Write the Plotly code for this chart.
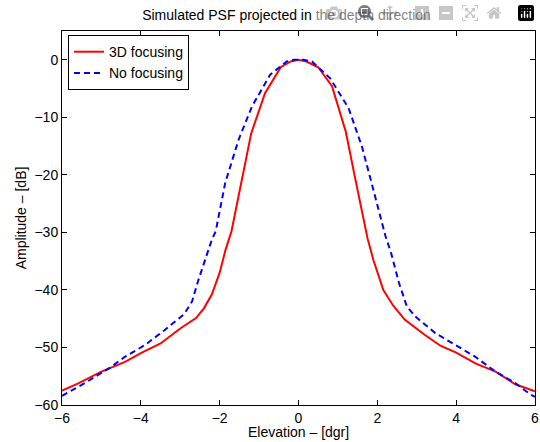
import plotly.graph_objects as go

# 3D focusing (red solid)
x_focus = [-6, -5.6, -5.0, -4.4, -4.0, -3.5, -3.0, -2.6, -2.4, -2.2, -2.0, -1.85, -1.7,
           -1.45, -1.2, -0.85, -0.45, -0.2, 0, 0.2, 0.5, 0.85, 1.2, 1.45, 1.6, 1.75, 1.9,
           2.15, 2.4, 2.7, 3.2, 3.6, 4.0, 4.5, 5.0, 5.5, 6.0]
y_focus = [-57.5, -56.3, -54.2, -52.5, -51.0, -49.3, -46.7, -44.9, -43.2, -40.8, -37.0,
           -33.0, -29.8, -21.2, -12.8, -5.8, -1.3, -0.3, 0, -0.3, -1.3, -4.6, -12.5, -21.0,
           -26.3, -31.0, -34.8, -40.0, -42.7, -45.2, -47.8, -49.7, -50.9, -52.8, -54.2,
           -56.4, -57.6]

# No focusing (blue dashed)
x_nofocus = [-6, -5.5, -4.8, -4.4, -3.9, -3.4, -2.9, -2.7, -2.55, -2.37, -2.2, -2.1, -1.86,
             -1.52, -1.18, -0.72, -0.3, -0.12, 0.12, 0.34, 0.8, 1.27, 1.61, 1.9, 2.2, 2.35,
             2.55, 2.75, 2.96, 3.47, 3.97, 4.48, 5.0, 5.5, 5.87, 6.0]
y_nofocus = [-58.4, -56.5, -53.6, -51.6, -49.6, -47.0, -44.2, -42.0, -38.5, -34.8, -31.3,
             -29.8, -21.4, -13.9, -8.1, -2.6, -0.3, 0, 0, -0.3, -3.2, -8.4, -15.1, -22.6,
             -30.5, -33.6, -38.8, -42.9, -44.6, -47.5, -49.6, -51.6, -54.2, -56.2, -58.1,
             -58.6]

x_ticks = [-6, -4, -2, 0, 2, 4, 6]
y_ticks = [-60, -50, -40, -30, -20, -10, 0]

FONT = "Liberation Sans, Arial, Helvetica, sans-serif"

fig = go.Figure()
fig.add_trace(go.Scatter(x=x_focus, y=y_focus, mode="lines", name="3D focusing",
                         line=dict(color="#ff0000", width=2)))
fig.add_trace(go.Scatter(x=x_nofocus, y=y_nofocus, mode="lines", name="No focusing",
                         line=dict(color="#0000ff", width=2, dash="6px,4px")))

axis_common = dict(showgrid=False, zeroline=False, showline=True, linecolor="black",
                   linewidth=1, mirror="ticks", ticks="inside", ticklen=5,
                   tickcolor="black", tickfont=dict(size=14, color="black"),
                   ticklabeloverflow="allow", automargin=False)

fig.update_layout(
    width=540, height=442,
    margin=dict(l=62, r=5, t=31, b=37),
    paper_bgcolor="white", plot_bgcolor="white",
    font=dict(family=FONT, size=14, color="black"),
    title=dict(text="Simulated PSF projected in the depth direction",
               x=286.5 / 540, xanchor="center", y=1 - 15 / 442, yanchor="middle",
               font=dict(size=14)),
    xaxis=dict(range=[-6, 6], tickvals=x_ticks, **axis_common),
    yaxis=dict(range=[-60, 5], tickvals=y_ticks,
               title=dict(text="Amplitude – [dB]", standoff=4, font=dict(size=14)),
               **axis_common),
    legend=dict(x=0.0127, y=0.989, xanchor="left", yanchor="top",
                bgcolor="white", bordercolor="black", borderwidth=1,
                font=dict(size=14), itemwidth=30, tracegroupgap=0),
    showlegend=True,
    annotations=[dict(text="Elevation – [dgr]", xref="paper", yref="paper",
                      x=0.5, y=-27 / 374, xanchor="center", yanchor="middle",
                      showarrow=False, font=dict(size=14))],
)

# remove the browser's default page margin so the 540x442 figure fills the window
fig.write_html("out.html",
               post_script="document.body.style.margin='0';"
                           "document.body.style.overflow='hidden';")
